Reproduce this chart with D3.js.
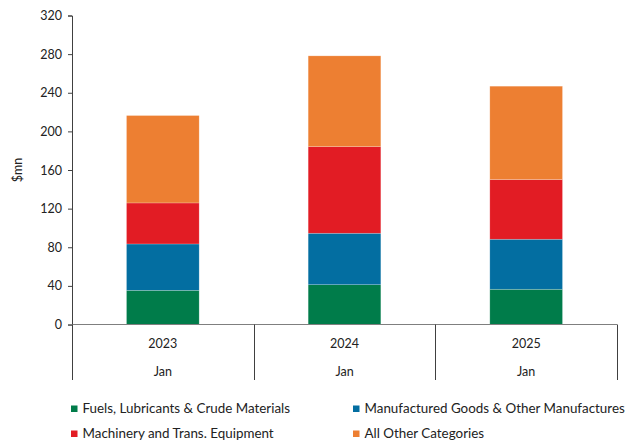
<!DOCTYPE html>
<html>
<head>
<meta charset="utf-8">
<script src="https://cdn.jsdelivr.net/npm/d3@7"></script>
<style>
  html, body { margin: 0; padding: 0; background: #fff; }
  svg { display: block; font-family: Lato, "Liberation Sans", sans-serif; }
</style>
</head>
<body>
<svg id="chart" width="637" height="442"></svg>
<script>
// Monthly imports by category, $mn (January of each year)
const years = ["2023", "2024", "2025"];
const months = ["Jan", "Jan", "Jan"];
const seriesNames = [
  "Fuels, Lubricants & Crude Materials",
  "Manufactured Goods & Other Manufactures",
  "Machinery and Trans. Equipment",
  "All Other Categories"
];
const fuels = [35.4, 41.2, 36.5];
const manufactured = [48.0, 53.3, 51.8];
const machinery = [42.5, 89.7, 61.8];
const otherCats = [90.5, 94.0, 96.7];
const yTicks = [0, 40, 80, 120, 160, 200, 240, 280, 320];
const colors = ["#007c4a", "#036ea1", "#e21c24", "#ed7f32"];

const svg = d3.select("#chart");
const left = 72, right = 617;
const y0 = 324.5, yTop = 15.5;

const rows = years.map((yr, i) => ({
  year: yr, month: months[i],
  s0: fuels[i], s1: manufactured[i], s2: machinery[i], s3: otherCats[i]
}));
const keys = ["s0", "s1", "s2", "s3"];
const stacked = d3.stack().keys(keys)(rows);

const x = d3.scaleBand().domain(years).range([left, right]).paddingInner(0.6).paddingOuter(0.3);
const xOuter = d3.scaleBand().domain(years).range([left, right]);
const y = d3.scaleLinear().domain([0, 320]).range([y0, yTop]);

// stacked bars
svg.append("g").selectAll("g").data(stacked).join("g")
  .attr("fill", (d, i) => colors[i])
  .selectAll("rect").data(d => d).join("rect")
  .attr("x", d => x(d.data.year))
  .attr("width", x.bandwidth())
  .attr("y", d => y(d[1]))
  .attr("height", d => y(d[0]) - y(d[1]))
  .attr("stroke", "rgba(255,255,255,0.35)")
  .attr("stroke-width", 0.6);

// y axis
const yAxis = d3.axisLeft(y).tickValues(yTicks).tickSize(4).tickPadding(6).tickFormat(d3.format("d"));
const gy = svg.append("g").attr("transform", `translate(${left},0)`).call(yAxis);
gy.select(".domain").attr("stroke", "#404040").attr("stroke-width", 1);
gy.selectAll(".tick line").attr("stroke", "#404040");
gy.selectAll(".tick text").attr("fill", "#222").style("font-size", "12.5px").style("font-family", "Lato, sans-serif");

// y axis title
svg.append("text")
  .attr("transform", `translate(22,${(y0 + yTop) / 2}) rotate(-90)`)
  .attr("text-anchor", "middle")
  .attr("fill", "#222")
  .style("font-size", "12.5px")
  .text("$mn");

// baseline
svg.append("line")
  .attr("x1", left - 4).attr("x2", right)
  .attr("y1", y(0)).attr("y2", y(0))
  .attr("stroke", "#7f7f7f").attr("stroke-width", 1.2);

// category axis with dividers
const catBottom = 380;
const dividers = years.map(yr => xOuter(yr)).concat([right]);
svg.append("g").selectAll("line").data(dividers).join("line")
  .attr("x1", d => Math.round(d) + 0.5).attr("x2", d => Math.round(d) + 0.5)
  .attr("y1", y(0)).attr("y2", catBottom)
  .attr("stroke", "#404040").attr("stroke-width", 1);

const labels = svg.append("g").attr("fill", "#222").style("font-size", "12.5px").attr("text-anchor", "middle");
labels.selectAll("text.yr").data(rows).join("text").attr("class", "yr")
  .attr("x", d => xOuter(d.year) + xOuter.bandwidth() / 2)
  .attr("y", 347.5)
  .text(d => d.year);
labels.selectAll("text.mo").data(rows).join("text").attr("class", "mo")
  .attr("x", d => xOuter(d.year) + xOuter.bandwidth() / 2)
  .attr("y", 376)
  .text(d => d.month);

// legend
const legendPos = [[71, 405.5], [353, 405.5], [71, 430.5], [353, 430.5]];
const lg = svg.append("g").selectAll("g").data(seriesNames).join("g")
  .attr("transform", (d, i) => `translate(${legendPos[i][0]},${legendPos[i][1]})`);
lg.append("rect").attr("width", 6.5).attr("height", 6.5).attr("fill", (d, i) => colors[i]);
lg.append("text").attr("x", 11.5).attr("y", 7.8).attr("fill", "#222")
  .style("font-size", "13.4px").text(d => d);
</script>
</body>
</html>
